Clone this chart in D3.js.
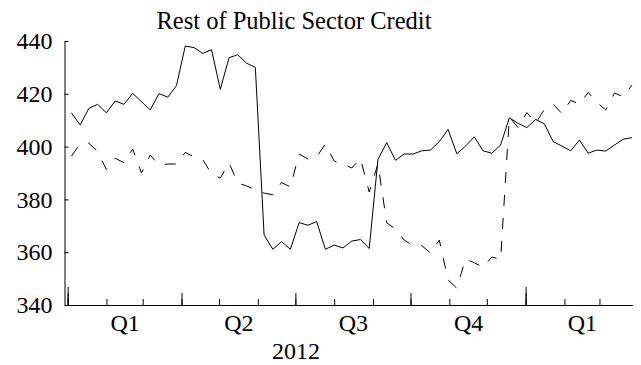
<!DOCTYPE html>
<html>
<head>
<meta charset="utf-8">
<script src="https://cdn.jsdelivr.net/npm/d3@7"></script>
<style>
    body { margin: 0; background: #fff; }
    svg text { font-family: "Liberation Serif", "Times New Roman", serif; fill: #000; }
</style>
</head>
<body>
<svg id="chart" width="641" height="365"></svg>
<script>
// weekly observations, Wednesdays from Jan 2012 to end of Mar 2013
var dates = d3.timeWednesday.range(new Date(2012, 0, 4), new Date(2013, 2, 28));

var solidValues = [
    412.8, 408.2, 414.5, 416.0, 412.8, 417.3, 416.0, 420.2, 417.0, 413.9,
    420.1, 418.7, 423.1, 438.1, 437.5, 435.3, 436.7, 421.7, 433.7, 434.8,
    431.6, 430.0, 366.5, 361.1, 364.0, 361.1, 371.2, 370.2, 371.6, 361.1,
    362.7, 361.6, 364.2, 364.8, 361.4, 395.2, 401.5, 394.8, 397.2, 397.2,
    398.4, 398.7, 401.9, 406.5, 397.3, 400.2, 403.7, 398.4, 397.5, 400.6,
    410.9, 408.8, 407.2, 410.3, 408.6, 401.9, 400.2, 398.4, 402.5, 397.5,
    398.7, 398.3, 400.6, 402.8, 403.4
];

var dashedValues = [
    396.4, 401.0, 401.3, 398.1, 391.3, 395.6, 393.9, 399.1, 390.0, 396.8,
    393.0, 393.4, 393.4, 397.8, 396.1, 395.1, 389.6, 388.1, 393.8, 386.2,
    385.1, 383.6, 382.4, 381.7, 386.4, 384.7, 397.2, 395.3, 396.1, 401.0,
    394.5, 393.4, 391.9, 395.5, 382.8, 393.4, 371.1, 368.8, 364.6, 362.5,
    362.5, 359.7, 364.6, 349.5, 346.4, 357.4, 356.0, 354.2, 358.2, 357.2,
    411.2, 407.2, 412.9, 408.9, 414.1, 416.1, 412.5, 417.5, 416.1, 420.5,
    416.7, 413.9, 420.3, 418.9, 423.3
];

var yTicks = [340, 360, 380, 400, 420, 440];
var quarterLabels = ["Q1", "Q2", "Q3", "Q4", "Q1"];
var yearLabel = "2012";
var title = "Rest of Public Sector Credit";

var svg = d3.select("#chart");
var plotLeft = 64.5, plotRight = 632, plotTop = 41, plotBottom = 305;

var x = d3.scaleTime()
    .domain([new Date(2011, 11, 29, 12), new Date(2013, 2, 27)])
    .range([plotLeft, plotRight]);
var y = d3.scaleLinear()
    .domain([340, 440])
    .range([plotBottom, plotTop]);

// title
svg.append("text")
    .attr("x", 294)
    .attr("y", 29)
    .attr("text-anchor", "middle")
    .style("font-size", "24.5px")
    .text(title);

// y axis, ticks pointing inward
var yAxis = svg.append("g")
    .attr("transform", "translate(" + plotLeft + ",0)")
    .call(d3.axisLeft(y).tickValues(yTicks).tickSize(-4).tickSizeOuter(0).tickPadding(12));
yAxis.selectAll("text").style("font-size", "24px");

// x axis: month, quarter and year ticks of growing length
var months = d3.timeMonth.range(new Date(2012, 0, 1), new Date(2013, 2, 2));
var quarters = months.filter(function (d) { return d.getMonth() % 3 === 0; });
var years = months.filter(function (d) { return d.getMonth() === 0; });

function tickAxis(values, size) {
    return d3.axisBottom(x).tickValues(values).tickSize(-size).tickSizeOuter(0).tickFormat("");
}
svg.append("g").attr("transform", "translate(0," + plotBottom + ")").call(tickAxis(months, 6));
svg.append("g").attr("transform", "translate(0," + plotBottom + ")").call(tickAxis(quarters, 12));
svg.append("g").attr("transform", "translate(0," + plotBottom + ")").call(tickAxis(years, 18));

// quarter labels centred in each quarter
var quarterMids = quarters.map(function (d) {
    var end = d3.timeMonth.offset(d, 3);
    return new Date((d.getTime() + end.getTime()) / 2);
});
var qAxis = svg.append("g")
    .attr("transform", "translate(0," + plotBottom + ")")
    .call(d3.axisBottom(x).tickValues(quarterMids).tickSize(0).tickPadding(9)
        .tickFormat(function (d, i) { return quarterLabels[i]; }));
qAxis.select(".domain").remove();
qAxis.selectAll("text").style("font-size", "24px");

// year label
svg.append("text")
    .attr("x", x(new Date(2012, 6, 1, 12)))
    .attr("y", 359)
    .attr("text-anchor", "middle")
    .style("font-size", "24px")
    .text(yearLabel);

svg.selectAll(".domain, .tick line").attr("stroke", "#000");

var line = d3.line()
    .x(function (d) { return x(d[0]); })
    .y(function (d) { return y(d[1]); });

svg.append("path")
    .datum(d3.zip(dates, dashedValues))
    .attr("fill", "none")
    .attr("stroke", "#000")
    .attr("stroke-width", 1)
    .attr("stroke-dasharray", "11,12")
    .attr("d", line);

svg.append("path")
    .datum(d3.zip(dates, solidValues))
    .attr("fill", "none")
    .attr("stroke", "#000")
    .attr("stroke-width", 1)
    .attr("d", line);
</script>
</body>
</html>
